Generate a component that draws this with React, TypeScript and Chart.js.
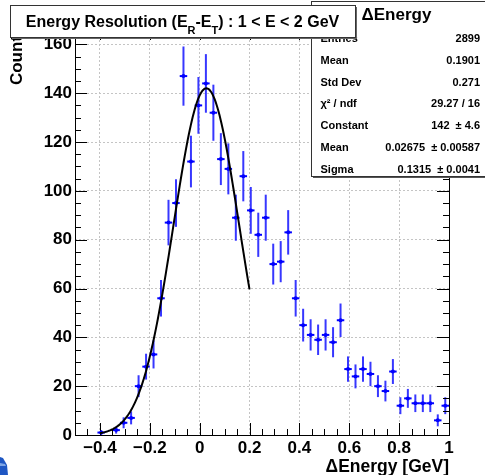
import React, { useEffect, useRef } from "react";
import { Chart, registerables } from "chart.js";

Chart.register(...registerables);

// ---------- data ----------
const binCenters = [
  -0.485, -0.455, -0.425, -0.395, -0.365, -0.335, -0.305, -0.275, -0.245, -0.215,
  -0.185, -0.155, -0.125, -0.095, -0.065, -0.035, -0.005, 0.025, 0.055, 0.085,
  0.115, 0.145, 0.175, 0.205, 0.235, 0.265, 0.295, 0.325, 0.355, 0.385,
  0.415, 0.445, 0.475, 0.505, 0.535, 0.565, 0.595, 0.625, 0.655, 0.685,
  0.715, 0.745, 0.775, 0.805, 0.835, 0.865, 0.895, 0.925, 0.955, 0.985,
];
const counts = [
  0, 0, 0, 1, 0, 2, 5, 7, 20, 28,
  33, 56, 87, 95, 147, 112, 135, 144, 132, 113,
  109, 89, 106, 92, 82, 89, 70, 71, 83, 56,
  45, 41, 39, 41, 38, 47, 27, 24, 27, 25,
  20, 18, 26, 12, 15, 13, 13, 13, 6, 12,
];
const binHalfWidth = 0.015;

// Gaussian fit parameters shown in the stats box
const fitConstant = 142;
const fitMean = 0.02675;
const fitSigma = 0.1315;
const fitRange = [-0.4, 0.2];

const xTickValues = [-0.4, -0.2, 0, 0.2, 0.4, 0.6, 0.8, 1.0];
const xTickLabels = ["\u22120.4", "\u22120.2", "0", "0.2", "0.4", "0.6", "0.8", "1"];
const yTickValues = [0, 20, 40, 60, 80, 100, 120, 140, 160];
const yTickLabels = ["0", "20", "40", "60", "80", "100", "120", "140", "160"];
const xMinorStep = 0.05;
const yMinorStep = 5;

const titleParts = [
  { t: "Energy Resolution (E", sub: false },
  { t: "R", sub: true },
  { t: "-E", sub: false },
  { t: "T", sub: true },
  { t: ") : 1 < E < 2 GeV", sub: false },
];
const statsTitle = "\u0394Energy";
const statsLabels = ["Entries", "Mean", "Std Dev", "\u03C7\u00B2 / ndf", "Constant", "Mean", "Sigma"];
const statsValues = ["2899", "0.1901", "0.271", "29.27 / 16", "142  \u00B1 4.6", "0.02675  \u00B1 0.00587", "0.1315  \u00B1 0.0041"];
const xAxisTitle = "\u0394Energy [GeV]";
const yAxisTitle = "Counts";

const FONT = '"Liberation Sans", Arial, Helvetica, sans-serif';

// ---------- derived datasets ----------
const histPoints = binCenters
  .map((x, i) => ({ x, y: counts[i] }))
  .filter((p) => p.y > 0);

const fitPoints: { x: number; y: number }[] = [];
{
  const n = 150;
  for (let i = 0; i <= n; i++) {
    const x = fitRange[0] + ((fitRange[1] - fitRange[0]) * i) / n;
    const z = (x - fitMean) / fitSigma;
    fitPoints.push({ x, y: fitConstant * Math.exp(-0.5 * z * z) });
  }
}

const decorPlugin = {
  id: "rootDecor",
  beforeDatasetsDraw(chart: any) {
    const ctx = chart.ctx as CanvasRenderingContext2D;
    const xs = chart.scales.x;
    const ys = chart.scales.y;
    const a = chart.chartArea;
    ctx.save();
    // error bars
    ctx.save();
    ctx.beginPath();
    ctx.rect(a.left, a.top, a.right - a.left, a.bottom - a.top);
    ctx.clip();
    for (const p of histPoints) {
      const err = Math.sqrt(p.y);
      const px = xs.getPixelForValue(p.x);
      const py = ys.getPixelForValue(p.y);
      ctx.strokeStyle = "rgba(20,20,255,0.85)";
      ctx.lineWidth = 2;
      ctx.beginPath();
      ctx.moveTo(px, ys.getPixelForValue(p.y - err));
      ctx.lineTo(px, ys.getPixelForValue(p.y + err));
      ctx.stroke();
      ctx.strokeStyle = "#0000ff";
      ctx.beginPath();
      ctx.moveTo(xs.getPixelForValue(p.x - binHalfWidth), py);
      ctx.lineTo(xs.getPixelForValue(p.x + binHalfWidth), py);
      ctx.stroke();
    }
    ctx.restore();

    // ticks
    ctx.strokeStyle = "#000";
    ctx.lineWidth = 1;
    ctx.beginPath();
    const xmin = xs.min, xmax = xs.max;
    for (let k = 0; ; k++) {
      const v = xmin + k * xMinorStep;
      if (v > xmax + 1e-9) break;
      const major = xTickValues.some((t) => Math.abs(t - v) < 1e-6);
      const len = major ? 12 : 6;
      const px = Math.round(xs.getPixelForValue(v)) + 0.5;
      ctx.moveTo(px, a.bottom);
      ctx.lineTo(px, a.bottom - len);
      ctx.moveTo(px, a.top);
      ctx.lineTo(px, a.top + len);
    }
    for (let k = 0; ; k++) {
      const v = ys.min + k * yMinorStep;
      if (v > ys.max + 1e-9) break;
      const major = yTickValues.some((t) => Math.abs(t - v) < 1e-6);
      const len = major ? 12 : 6;
      const py = Math.round(ys.getPixelForValue(v)) + 0.5;
      ctx.moveTo(a.left, py);
      ctx.lineTo(a.left + len, py);
      ctx.moveTo(a.right, py);
      ctx.lineTo(a.right - len, py);
    }
    ctx.stroke();
    // frame
    ctx.lineWidth = 1;
    ctx.strokeRect(Math.round(a.left) + 0.5, Math.round(a.top) + 0.5, Math.round(a.right - a.left), Math.round(a.bottom - a.top));
    ctx.restore();
  },
  afterDraw(chart: any) {
    const ctx = chart.ctx as CanvasRenderingContext2D;
    const a = chart.chartArea;
    ctx.save();
    ctx.fillStyle = "#000";

    // x axis title
    ctx.font = `bold 17.5px ${FONT}`;
    ctx.textAlign = "right";
    ctx.textBaseline = "alphabetic";
    ctx.fillText(xAxisTitle, a.right, 472);

    // y axis title (rotated)
    ctx.save();
    ctx.translate(22, 26.5);
    ctx.rotate(-Math.PI / 2);
    ctx.font = `bold 17px ${FONT}`;
    ctx.textAlign = "right";
    ctx.fillText(yAxisTitle, 0, 0);
    ctx.restore();

    // stats box
    const sx = 311, sy = 1, sw = 180, sh = 176;
    ctx.fillStyle = "#fff";
    ctx.fillRect(sx, sy, sw, sh);
    ctx.fillStyle = "#555";
    ctx.fillRect(sx + 2, sy + sh - 1, sw, 2);
    ctx.strokeStyle = "#333";
    ctx.lineWidth = 1;
    ctx.strokeRect(sx + 0.5, sy + 0.5, sw, sh - 1);
    ctx.fillStyle = "#000";
    ctx.font = `bold 17px ${FONT}`;
    ctx.textAlign = "left";
    ctx.fillText(statsTitle, 361.5, 19.5);
    ctx.font = `bold 11px ${FONT}`;
    for (let i = 0; i < statsLabels.length; i++) {
      const by = 41.7 + i * 21.93;
      ctx.textAlign = "left";
      ctx.fillText(statsLabels[i], 320.5, by);
      ctx.textAlign = "right";
      ctx.fillText(statsValues[i], 480, by);
    }

    // title box
    const tx = 10, ty = 5, tw = 345, th = 32;
    ctx.fillStyle = "#666";
    ctx.fillRect(tx + 2, ty + th, tw, 2);
    ctx.fillRect(tx + tw, ty + 2, 2, th);
    ctx.fillStyle = "#fff";
    ctx.fillRect(tx, ty, tw, th);
    ctx.strokeStyle = "#333";
    ctx.strokeRect(tx + 0.5, ty + 0.5, tw, th);
    ctx.fillStyle = "#000";
    ctx.textAlign = "left";
    const mainFont = `bold 16px ${FONT}`;
    const subFont = `bold 11px ${FONT}`;
    let total = 0;
    for (const p of titleParts) {
      ctx.font = p.sub ? subFont : mainFont;
      total += ctx.measureText(p.t).width;
    }
    let cx = tx + tw / 2 - total / 2;
    for (const p of titleParts) {
      ctx.font = p.sub ? subFont : mainFont;
      ctx.fillText(p.t, cx, p.sub ? 34 : 26.5);
      cx += ctx.measureText(p.t).width;
    }

    // partial logo at bottom-left corner
    ctx.fillStyle = "#1f57c3";
    ctx.beginPath();
    ctx.moveTo(0, 457);
    ctx.lineTo(3, 458);
    ctx.lineTo(7, 465);
    ctx.lineTo(8, 475);
    ctx.lineTo(0, 475);
    ctx.closePath();
    ctx.fill();
    ctx.fillStyle = "#7ea6e6";
    ctx.beginPath();
    ctx.moveTo(0, 463);
    ctx.lineTo(5, 464);
    ctx.lineTo(6, 466);
    ctx.lineTo(0, 466);
    ctx.closePath();
    ctx.fill();

    ctx.restore();
  },
};

export default function App() {
  const ref = useRef<HTMLCanvasElement>(null);
  useEffect(() => {
    const canvas = ref.current!;
    const chart = new Chart(canvas, {
      type: "scatter",
      data: {
        datasets: [
          {
            type: "line",
            data: fitPoints,
            borderColor: "#000",
            borderWidth: 2,
            pointRadius: 0,
            fill: false,
            tension: 0,
            order: 0,
          } as any,
          {
            type: "scatter",
            data: histPoints,
            backgroundColor: "#0000ff",
            borderWidth: 0,
            pointRadius: 2,
            order: 1,
          },
        ],
      },
      options: {
        animation: false,
        responsive: false,
        devicePixelRatio: 1,
        layout: { padding: { left: 0, top: 28, right: 36, bottom: 0 } },
        plugins: { legend: { display: false }, tooltip: { enabled: false } },
        scales: {
          x: {
            type: "linear",
            min: -0.5,
            max: 1.0,
            afterBuildTicks: (s: any) => {
              s.ticks = xTickValues.map((v) => ({ value: v }));
            },
            afterFit: (s: any) => {
              s.height = 40;
            },
            ticks: {
              autoSkip: false,
              maxRotation: 0,
              padding: 3,
              color: "#000",
              font: { family: FONT, size: 17, weight: "bold" },
              callback: (_v: any, i: number) => xTickLabels[i],
            },
            grid: { color: "#c4c4c4", lineWidth: 1, drawTicks: false },
            border: { display: false, dash: [2, 2] },
          },
          y: {
            type: "linear",
            min: 0,
            max: 166.7,
            afterBuildTicks: (s: any) => {
              s.ticks = yTickValues.map((v) => ({ value: v }));
            },
            afterFit: (s: any) => {
              s.width = 75;
            },
            ticks: {
              autoSkip: false,
              padding: 3,
              color: "#000",
              font: { family: FONT, size: 17, weight: "bold" },
              callback: (_v: any, i: number) => yTickLabels[i],
            },
            grid: { color: "#c4c4c4", lineWidth: 1, drawTicks: false },
            border: { display: false, dash: [2, 2] },
          },
        },
      } as any,
      plugins: [decorPlugin],
    });
    return () => chart.destroy();
  }, []);
  return (
    <div style={{ position: "fixed", left: 0, top: 0, width: 485, height: 475, background: "#fff" }}>
      <canvas ref={ref} width={485} height={475} style={{ display: "block", width: 485, height: 475 }} />
    </div>
  );
}
